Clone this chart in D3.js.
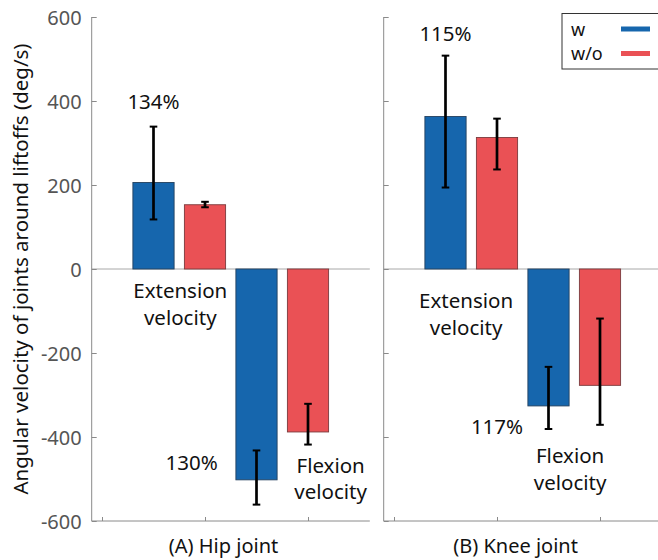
<!DOCTYPE html>
<html>
<head>
<meta charset="utf-8">
<script src="https://cdn.jsdelivr.net/npm/d3@7"></script>
<style>
  html, body { margin: 0; padding: 0; background: #fff; }
  svg { display: block; font-family: "Noto Sans", "Open Sans", sans-serif; }
</style>
</head>
<body>
<svg id="chart" width="658" height="560"></svg>
<script>
// ---- data ----
const joints = ["(A) Hip joint", "(B) Knee joint"];
const categories = ["Extension velocity", "Flexion velocity"];
const seriesNames = ["w", "w/o"];
const yTicks = [-600, -400, -200, 0, 200, 400, 600];

// Hip joint
const hipW = [206, -502];
const hipWLow = [118, -561];
const hipWHigh = [339, -432];
const hipWo = [153, -388];
const hipWoLow = [147, -418];
const hipWoHigh = [160, -321];
const hipPercent = ["134%", "130%"];

// Knee joint
const kneeW = [363, -326];
const kneeWLow = [194, -381];
const kneeWHigh = [508, -233];
const kneeWo = [313, -277];
const kneeWoLow = [237, -371];
const kneeWoHigh = [358, -118];
const kneePercent = ["115%", "117%"];

const colors = ["#1666ad", "#ea5155"];
const strokes = ["#24405e", "#7a3a3c"];

// ---- layout ----
const svg = d3.select("#chart");
const y = d3.scaleLinear().domain([-600, 600]).range([521, 17]);
const unit = 103;
const panels = [
  { name: joints[0], x0: 102, w: hipW, wl: hipWLow, wh: hipWHigh, o: hipWo, ol: hipWoLow, oh: hipWoHigh, pct: hipPercent,
    pctPos: [[0.5, 400], [0.87, -460]],
    catPos: [[0.76, -50, -114], [2.22, -467, -529]], labels: true },
  { name: joints[1], x0: 394, w: kneeW, wl: kneeWLow, wh: kneeWHigh, o: kneeWo, ol: kneeWoLow, oh: kneeWoHigh, pct: kneePercent,
    pctPos: [[0.5, 562], [1.0, -374]],
    catPos: [[0.70, -74, -138], [1.71, -443, -507]], labels: false }
];

const axisColor = "#8a8a8a";
const fs = 20.5;

panels.forEach(p => {
  const x = d3.scaleLinear().domain([-0.1, 2.6]).range([p.x0 - 0.1 * unit, p.x0 + 2.6 * unit]);
  const g = svg.append("g");

  // zero line
  g.append("line")
    .attr("x1", x(-0.1)).attr("x2", x(2.6))
    .attr("y1", y(0)).attr("y2", y(0))
    .attr("stroke", "#a8a8a8").attr("stroke-width", 1);

  // bars
  const bars = [];
  for (let i = 0; i < 2; i++) {
    bars.push({ x: 0.5 + i, v: p.w[i], lo: p.wl[i], hi: p.wh[i], s: 0 });
    bars.push({ x: 1.0 + i, v: p.o[i], lo: p.ol[i], hi: p.oh[i], s: 1 });
  }
  const bw = 0.4;
  g.selectAll("rect.bar").data(bars).enter().append("rect")
    .attr("class", "bar")
    .attr("x", d => x(d.x - bw / 2))
    .attr("width", d => x(d.x + bw / 2) - x(d.x - bw / 2))
    .attr("y", d => y(Math.max(0, d.v)))
    .attr("height", d => Math.abs(y(d.v) - y(0)))
    .attr("fill", d => colors[d.s])
    .attr("stroke", d => strokes[d.s])
    .attr("stroke-width", 0.9);

  // error bars
  const eg = g.selectAll("g.err").data(bars).enter().append("g").attr("class", "err");
  eg.append("line")
    .attr("x1", d => x(d.x)).attr("x2", d => x(d.x))
    .attr("y1", d => y(d.lo)).attr("y2", d => y(d.hi))
    .attr("stroke", "#000").attr("stroke-width", 2.7);
  ["lo", "hi"].forEach(k => {
    eg.append("line")
      .attr("x1", d => x(d.x) - 3.8).attr("x2", d => x(d.x) + 3.8)
      .attr("y1", d => y(d[k])).attr("y2", d => y(d[k]))
      .attr("stroke", "#000").attr("stroke-width", 2);
  });

  // axes
  const yAxis = d3.axisRight(y).tickValues(yTicks).tickSize(5).tickFormat("");
  const ya = g.append("g").attr("transform", `translate(${x(-0.1)},0)`).call(yAxis);
  ya.select(".domain").attr("d", `M0,${y(600)}V${y(-600)}`);
  ya.selectAll("path, line").attr("stroke", axisColor);

  const xAxis = d3.axisTop(x).tickValues([0, 1, 2]).tickSize(4).tickFormat("");
  const xa = g.append("g").attr("transform", `translate(0,${y(-600)})`).call(xAxis);
  xa.select(".domain").attr("d", `M${x(-0.1)},0H${x(2.6)}`);
  xa.selectAll("path, line").attr("stroke", axisColor);

  if (p.labels) {
    g.selectAll("text.ytick").data(yTicks).enter().append("text")
      .attr("class", "ytick")
      .attr("x", x(-0.1) - 10).attr("y", d => y(d))
      .attr("text-anchor", "end").attr("dominant-baseline", "central")
      .attr("font-size", 20).attr("fill", "#555")
      .text(d => d);
  }

  // percent labels
  p.pct.forEach((t, i) => {
    g.append("text")
      .attr("x", x(p.pctPos[i][0])).attr("y", y(p.pctPos[i][1]))
      .attr("text-anchor", "middle").attr("dominant-baseline", "central")
      .attr("font-size", fs).attr("fill", "#111").text(t);
  });

  // category labels (two lines)
  categories.forEach((c, i) => {
    const parts = c.split(" ");
    const cp = p.catPos[i];
    parts.forEach((w, j) => {
      g.append("text")
        .attr("x", x(cp[0])).attr("y", y(cp[1 + j]))
        .attr("text-anchor", "middle").attr("dominant-baseline", "central")
        .attr("font-size", fs).attr("fill", "#111").text(w);
    });
  });

  // panel title
  g.append("text")
    .attr("x", x(1.18)).attr("y", 545)
    .attr("text-anchor", "middle").attr("dominant-baseline", "central")
    .attr("font-size", 20).attr("fill", "#111").text(p.name);
});

// y title
svg.append("text")
  .attr("transform", `translate(20,${y(0)}) rotate(-90)`)
  .attr("text-anchor", "middle").attr("dominant-baseline", "central")
  .attr("font-size", fs).attr("fill", "#111")
  .text("Angular velocity of joints around liftoffs (deg/s)");

// legend
const lg = svg.append("g");
lg.append("rect").attr("x", 562).attr("y", 13.5).attr("width", 110).attr("height", 55.5)
  .attr("fill", "#fff").attr("stroke", "#333").attr("stroke-width", 1);
seriesNames.forEach((n, i) => {
  const cy = 28.5 + i * 24.5;
  lg.append("text").attr("x", 571).attr("y", cy)
    .attr("dominant-baseline", "central").attr("font-size", 18).attr("fill", "#111").text(n);
  lg.append("line").attr("x1", 621).attr("x2", 650).attr("y1", cy + 0.5).attr("y2", cy + 0.5)
    .attr("stroke", colors[i]).attr("stroke-width", 5);
});
</script>
</body>
</html>
